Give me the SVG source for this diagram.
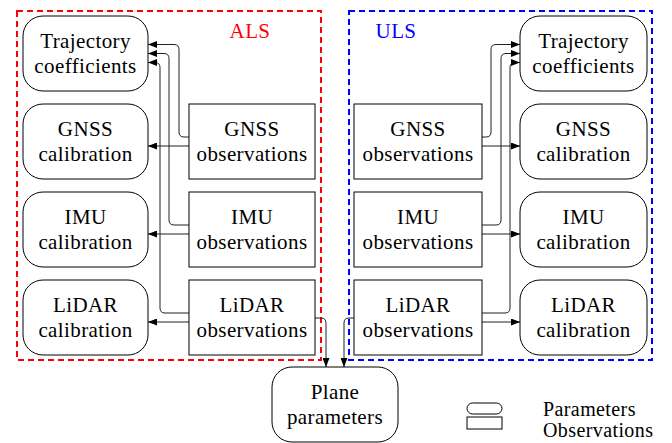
<svg xmlns="http://www.w3.org/2000/svg" width="672" height="443" viewBox="0 0 672 443">
<defs>
<marker id="ah" markerUnits="userSpaceOnUse" markerWidth="9" markerHeight="7" refX="9" refY="3.5" orient="auto">
<path d="M0,0 L9,3.5 L0,7 z" fill="#000"/>
</marker>
<style>
text{font-family:"Liberation Serif","Times New Roman",serif;font-size:21px;fill:#000;text-anchor:middle;letter-spacing:0.4px}
.p{fill:#fff;stroke:#000;stroke-width:1}
.o{fill:#fff;stroke:#000;stroke-width:1}
.c{fill:none;stroke:#222;stroke-width:1;marker-end:url(#ah)}
.als{fill:none;stroke:#ff0000;stroke-width:2;stroke-dasharray:6 4}
.uls{fill:none;stroke:#0000ff;stroke-width:2;stroke-dasharray:6 4}
.lg{text-anchor:start;font-size:20px}
</style>
</defs>
<rect width="672" height="443" fill="#fff"/>
<g id="groups">
<rect class="als" x="17" y="11" width="304" height="349"/>
<text x="250" y="38" style="fill:#ff0000">ALS</text>
<rect class="uls" x="349" y="11" width="303" height="349"/>
<text x="396" y="38" style="fill:#0000ff">ULS</text>
</g>
<g id="connectors">
<path class="c" d="M189,137 H184 Q179,137 179,132 V49.5 Q179,44.5 174,44.5 H148"/>
<path class="c" d="M189,225 H174 Q169,225 169,220 V58.5 Q169,53.5 164,53.5 H148"/>
<path class="c" d="M189,313 H165 Q160,313 160,308 V67.5 Q160,62.5 155,62.5 H148"/>
<path class="c" d="M189,146 H148"/>
<path class="c" d="M189,234 H148"/>
<path class="c" d="M189,322 H148"/>
<path class="c" d="M482,137 H486 Q491,137 491,132 V49.5 Q491,44.5 496,44.5 H520"/>
<path class="c" d="M482,225 H496 Q501,225 501,220 V58.5 Q501,53.5 506,53.5 H520"/>
<path class="c" d="M482,313 H505 Q510,313 510,308 V67.5 Q510,62.5 515,62.5 H520"/>
<path class="c" d="M482,146 H520"/>
<path class="c" d="M482,234 H520"/>
<path class="c" d="M482,322 H520"/>
<path class="c" d="M315,318 H321 Q326,318 326,323 V367"/>
<path class="c" d="M354,318 H349 Q344,318 344,323 V367"/>
</g>
<g id="als-traj"><rect class="p" x="23" y="16" width="125" height="75" rx="20"/><text x="85.5" y="48">Trajectory</text><text x="85.5" y="73">coefficients</text></g>
<g id="als-gnss-cal"><rect class="p" x="23" y="104" width="125" height="75" rx="20"/><text x="85.5" y="136">GNSS</text><text x="85.5" y="161">calibration</text></g>
<g id="als-imu-cal"><rect class="p" x="23" y="192" width="125" height="75" rx="20"/><text x="85.5" y="224">IMU</text><text x="85.5" y="249">calibration</text></g>
<g id="als-lidar-cal"><rect class="p" x="23" y="280" width="125" height="75" rx="20"/><text x="85.5" y="312">LiDAR</text><text x="85.5" y="337">calibration</text></g>
<g id="als-gnss-obs"><rect class="o" x="189" y="104" width="126" height="75"/><text x="252" y="136">GNSS</text><text x="252" y="161">observations</text></g>
<g id="als-imu-obs"><rect class="o" x="189" y="192" width="126" height="75"/><text x="252" y="224">IMU</text><text x="252" y="249">observations</text></g>
<g id="als-lidar-obs"><rect class="o" x="189" y="280" width="126" height="75"/><text x="252" y="312">LiDAR</text><text x="252" y="337">observations</text></g>
<g id="uls-gnss-obs"><rect class="o" x="354" y="104" width="128" height="75"/><text x="418" y="136">GNSS</text><text x="418" y="161">observations</text></g>
<g id="uls-imu-obs"><rect class="o" x="354" y="192" width="128" height="75"/><text x="418" y="224">IMU</text><text x="418" y="249">observations</text></g>
<g id="uls-lidar-obs"><rect class="o" x="354" y="280" width="128" height="75"/><text x="418" y="312">LiDAR</text><text x="418" y="337">observations</text></g>
<g id="uls-traj"><rect class="p" x="520" y="16" width="127" height="75" rx="20"/><text x="583.5" y="48">Trajectory</text><text x="583.5" y="73">coefficients</text></g>
<g id="uls-gnss-cal"><rect class="p" x="520" y="104" width="127" height="75" rx="20"/><text x="583.5" y="136">GNSS</text><text x="583.5" y="161">calibration</text></g>
<g id="uls-imu-cal"><rect class="p" x="520" y="192" width="127" height="75" rx="20"/><text x="583.5" y="224">IMU</text><text x="583.5" y="249">calibration</text></g>
<g id="uls-lidar-cal"><rect class="p" x="520" y="280" width="127" height="75" rx="20"/><text x="583.5" y="312">LiDAR</text><text x="583.5" y="337">calibration</text></g>
<g id="plane"><rect class="p" x="272" y="367" width="126" height="75" rx="20"/><text x="335" y="399">Plane</text><text x="335" y="424">parameters</text></g>
<g id="legend">
<rect class="p" x="467" y="403" width="35" height="11" rx="5.5"/>
<rect class="o" x="467" y="417" width="35" height="12"/>
<text class="lg" x="543" y="416">Parameters</text>
<text class="lg" x="543" y="437">Observations</text>
</g>
</svg>
